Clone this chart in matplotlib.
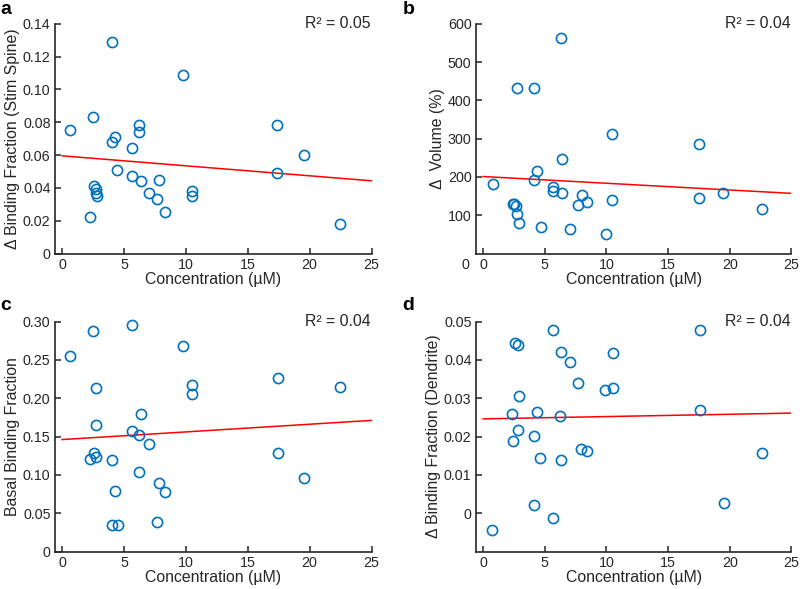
import matplotlib
matplotlib.use("Agg")
import matplotlib.pyplot as plt
import numpy as np

plt.rcParams['font.family'] = ['Liberation Sans', 'DejaVu Sans']

# ---------------- data ----------------
conc_a = [0.67, 2.48, 2.27, 2.56, 2.70, 2.75, 2.78, 4.05, 4.02, 4.31, 4.42, 5.64, 5.64,
          6.20, 6.20, 6.34, 6.98, 7.66, 7.82, 8.31, 9.76, 10.46, 10.46, 17.4, 17.4, 19.53, 22.49]
val_a = [0.075, 0.083, 0.022, 0.041, 0.039, 0.037, 0.035, 0.129, 0.068, 0.071, 0.051, 0.064, 0.047,
         0.078, 0.074, 0.044, 0.037, 0.033, 0.045, 0.025, 0.109, 0.038, 0.035, 0.078, 0.049, 0.060, 0.018]

conc_b = [0.81, 2.40, 2.50, 2.70, 2.77, 2.91, 2.77, 4.12, 4.12, 4.39, 4.66, 5.68, 5.68, 6.28,
          6.41, 6.41, 7.03, 7.70, 8.03, 8.43, 9.99, 10.48, 10.48, 17.54, 17.54, 19.48, 22.58]
val_b = [181, 128, 130, 125, 103, 80, 432, 432, 192, 215, 68, 174, 164, 562,
         248, 159, 65, 126, 152, 135, 52, 311, 139, 286, 144, 157, 115]

conc_c = [0.67, 2.48, 2.27, 2.56, 2.70, 2.70, 2.75, 4.05, 4.05, 4.31, 4.50, 5.66, 5.64, 6.20,
          6.20, 6.34, 6.98, 7.66, 7.79, 8.31, 9.76, 10.46, 10.46, 17.45, 17.45, 19.53, 22.49]
val_c = [0.255, 0.287, 0.121, 0.129, 0.213, 0.165, 0.123, 0.119, 0.035, 0.079, 0.035, 0.295, 0.157, 0.152,
         0.104, 0.180, 0.140, 0.039, 0.090, 0.077, 0.268, 0.217, 0.205, 0.226, 0.129, 0.096, 0.215]

conc_d = [0.76, 2.38, 2.46, 2.60, 2.79, 2.79, 2.92, 4.09, 4.09, 4.36, 4.63, 5.65, 5.65, 6.25,
          6.33, 6.33, 7.01, 7.68, 7.95, 8.41, 9.90, 10.50, 10.50, 17.56, 17.56, 19.50, 22.62]
val_d = [-0.0045, 0.026, 0.0189, 0.0443, 0.0439, 0.0218, 0.0305, 0.0201, 0.0022, 0.0264, 0.0143, 0.0478, -0.0013, 0.0253,
         0.0420, 0.0138, 0.0394, 0.0339, 0.0167, 0.0163, 0.0322, 0.0327, 0.0418, 0.0478, 0.0268, 0.0026, 0.0156]

# linear fits (value at x=0, value at x=25)
fit_a = [0.0595, 0.0443]
fit_b = [201, 157]
fit_c = [0.146, 0.171]
fit_d = [0.0246, 0.0261]
fit_x = [0, 25]

r2 = ["0.05", "0.04", "0.04", "0.04"]
letters = ["a", "b", "c", "d"]
ylabels = ["\u0394 Binding Fraction (Stim Spine)", "\u0394  Volume (%)",
           "Basal Binding Fraction", "\u0394 Binding Fraction (Dendrite)"]
xlabel = "Concentration (\u00b5M)"
xticks = [0, 5, 10, 15, 20, 25]
yticks_a = [0, 0.02, 0.04, 0.06, 0.08, 0.10, 0.12, 0.14]
yticks_b = [100, 200, 300, 400, 500, 600]
yticks_c = [0, 0.05, 0.10, 0.15, 0.20, 0.25, 0.30]
yticks_d = [0, 0.01, 0.02, 0.03, 0.04, 0.05]

# ---------------- figure ----------------
fig = plt.figure(figsize=(8.0, 5.89), dpi=100)
W, H = 800, 589

def ax_rect(l, r, t, b):
    return [l / W, 1 - b / H, (r - l) / W, (b - t) / H]

rects = [ax_rect(54.7, 371.5, 23.7, 253.5), ax_rect(475.7, 791.5, 23.7, 253.5),
         ax_rect(54.7, 371.5, 321.5, 551.5), ax_rect(475.7, 791.5, 321.5, 551.5)]

xs = [conc_a, conc_b, conc_c, conc_d]
ys = [val_a, val_b, val_c, val_d]
fits = [fit_a, fit_b, fit_c, fit_d]
yticks = [yticks_a, yticks_b, yticks_c, yticks_d]
ylims = [(0, 0.14), (0, 600), (0, 0.30), (-0.01, 0.05)]

blue = '#0072BD'
dark = '#262626'
tick_fs = 10.3
label_fs = 11.4

def fmt(v, dec):
    return "0" if v == 0 else f"{v:.{dec}f}"

decs = [2, 0, 2, 2]

for i in range(4):
    ax = fig.add_axes(rects[i])
    ax.plot(xs[i], ys[i], linestyle='none', marker='o', markersize=7.3,
            markerfacecolor='none', markeredgecolor=blue, markeredgewidth=1.2,
            zorder=3, clip_on=False)
    ax.plot(fit_x, fits[i], color='red', linewidth=1.1, zorder=2)
    ax.set_xlim(-0.6, 25)
    ax.set_ylim(*ylims[i])
    ax.set_xticks(xticks)
    ax.set_xticklabels([str(t) for t in xticks])
    ax.set_yticks(yticks[i])
    ax.set_yticklabels([fmt(t, decs[i]) for t in yticks[i]])
    for s in ['top', 'right']:
        ax.spines[s].set_visible(False)
    for s in ['left', 'bottom']:
        ax.spines[s].set_linewidth(1.2)
        ax.spines[s].set_color(dark)
    ax.tick_params(direction='in', length=4, width=1.1, colors=dark,
                   labelsize=tick_fs, pad=3, labelcolor=dark)
    ax.set_xlabel(xlabel, fontsize=label_fs, color=dark, labelpad=0)
    ax.set_ylabel(ylabels[i], fontsize=label_fs, color=dark, labelpad=2)
    ax.text(0.997, 1.0, "R\u00b2 = " + r2[i], transform=ax.transAxes,
            ha='right', va='center', fontsize=label_fs, color=dark)
    if i == 1:
        # stray "0" label sitting on the x tick-label row, left of the x "0"
        ax.text(-0.032, -0.052, "0", transform=ax.transAxes, ha='center', va='center',
                fontsize=tick_fs, color=dark)

letter_pos = [(0.0, 1 - 9 / H), (0.503, 1 - 9 / H), (0.0, 1 - 305 / H), (0.503, 1 - 305 / H)]
for (lx, ly), l in zip(letter_pos, letters):
    fig.text(lx, ly, l, fontsize=14, fontweight='bold', ha='left', va='center', color='black')

fig.savefig("out.png", dpi=100)
